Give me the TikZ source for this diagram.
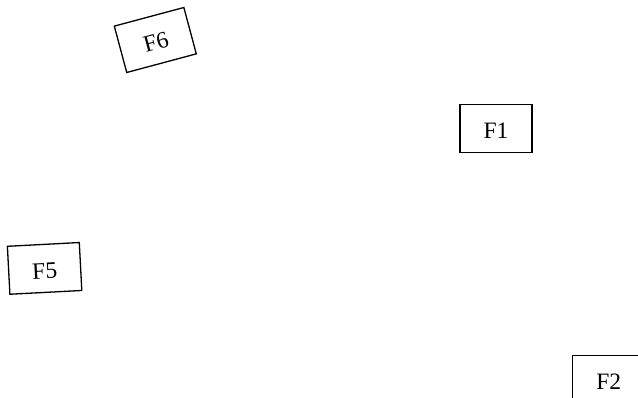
\documentclass[tikz,border=0pt]{standalone}
\usepackage{fontspec}
\setmainfont{Liberation Serif}
\begin{document}
\begin{tikzpicture}[x=1pt,y=1pt,
  fbox/.style={draw=black, line width=1.3pt, rectangle, minimum width=72pt, minimum height=48pt,
    inner sep=0pt, text height=20pt, text depth=0pt, font=\fontsize{23.5}{26}\selectfont}]
  \useasboundingbox (0,0) rectangle (638,398);
  \clip (0,0) rectangle (638,398);
  \node[fbox, rotate=15] (f6) at (155.3,358) {F6\hspace{5pt}};
  \node[fbox] (f1) at (496,269.7) {F1\hspace{5pt}};
  \node[fbox, rotate=3] (f5) at (44.6,129.6) {F5\hspace{5pt}};
  \node[fbox] (f2) at (608.7,18.3) {F2\hspace{1pt}};
\end{tikzpicture}
\end{document}
